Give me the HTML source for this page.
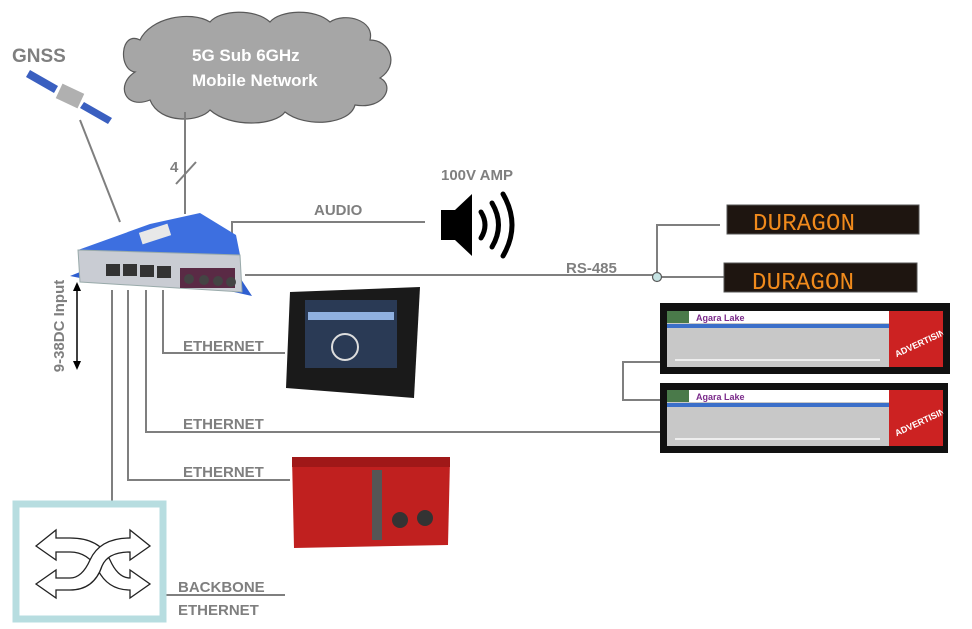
<!DOCTYPE html>
<html><head><meta charset="utf-8"><style>
html,body{margin:0;padding:0;background:#fff;}
svg{display:block;font-family:"Liberation Sans",sans-serif;}
</style></head><body>
<svg width="972" height="629" viewBox="0 0 972 629" xmlns="http://www.w3.org/2000/svg">
<defs>
<clipPath id="c1"><rect x="889" y="311" width="54" height="56"/></clipPath>
<clipPath id="c2"><rect x="889" y="390" width="54" height="56"/></clipPath>
</defs>
<!-- cloud -->
<g fill="#a6a6a6" stroke="#595959" stroke-width="1.2">
<path d="M140,40 C120,30 118,70 135,72 C115,85 125,110 150,100 C160,125 200,122 210,110 C230,128 275,126 285,112 C305,128 350,125 355,105 C385,110 395,85 380,78 C400,65 390,40 370,40 C375,20 345,12 330,22 C315,8 280,10 270,22 C255,8 220,10 210,22 C190,10 150,18 140,40 Z"/>
</g>
<text x="192" y="61" font-size="17" font-weight="bold" fill="#fff">5G Sub 6GHz</text>
<text x="192" y="86" font-size="17" font-weight="bold" fill="#fff">Mobile Network</text>
<text x="12" y="62" font-size="19" font-weight="bold" fill="#7f7f7f">GNSS</text>
<!-- satellite -->
<polygon points="30,70 58,86 54,93 26,77" fill="#3a5fc0"/>
<polygon points="84,102 112,118 108,124 80,108" fill="#3a5fc0"/>
<rect x="58" y="88" width="24" height="16" fill="#b0b0b0" transform="rotate(25 70 96)"/>
<!-- lines -->
<g stroke="#7f7f7f" stroke-width="2" fill="none">
<line x1="80" y1="120" x2="120" y2="222"/>
<line x1="185" y1="112" x2="185" y2="214"/>
<line x1="176" y1="184" x2="196" y2="162"/>
<polyline points="232,242 232,222 425,222"/>
<line x1="245" y1="275" x2="653" y2="275"/>
<polyline points="661,277 725,277"/>
<polyline points="657,273 657,225 720,225"/>
<polyline points="660,362 623,362 623,400 660,400"/>
<polyline points="146,290 146,432 660,432"/>
<polyline points="163,290 163,353 285,353"/>
<polyline points="128,290 128,480 290,480"/>
<line x1="112" y1="290" x2="112" y2="503"/>
<line x1="163" y1="595" x2="285" y2="595"/>
</g>
<circle cx="657" cy="277" r="4.5" fill="#c5e3e3" stroke="#595959" stroke-width="1.2"/>
<text x="170" y="172" font-size="15" font-weight="bold" fill="#7f7f7f">4</text>
<text x="314" y="215" font-size="15" font-weight="bold" fill="#7f7f7f">AUDIO</text>
<text x="441" y="180" font-size="15" font-weight="bold" fill="#7f7f7f">100V AMP</text>
<text x="566" y="273" font-size="15" font-weight="bold" fill="#7f7f7f">RS-485</text>
<text x="183" y="351" font-size="15" font-weight="bold" fill="#7f7f7f">ETHERNET</text>
<text x="183" y="429" font-size="15" font-weight="bold" fill="#7f7f7f">ETHERNET</text>
<text x="183" y="477" font-size="15" font-weight="bold" fill="#7f7f7f">ETHERNET</text>
<text x="178" y="592" font-size="15" font-weight="bold" fill="#7f7f7f">BACKBONE</text>
<text x="178" y="615" font-size="15" font-weight="bold" fill="#7f7f7f">ETHERNET</text>
<text transform="translate(64,326) rotate(-90)" text-anchor="middle" font-size="15" font-weight="bold" fill="#7f7f7f">9-38DC Input</text>
<!-- DC arrow -->
<line x1="77" y1="290" x2="77" y2="362" stroke="#000" stroke-width="1.5"/>
<polygon points="77,282 73,291 81,291" fill="#000"/>
<polygon points="77,370 73,361 81,361" fill="#000"/>
<!-- router -->
<polygon points="70,276 90,268 90,280" fill="#2f5fd0"/>
<polygon points="235,270 252,296 225,290" fill="#2f5fd0"/>
<polygon points="78,250 150,224 200,213 236,235 240,255" fill="#3d6fe0"/>
<rect x="140" y="228" width="30" height="12" fill="#e8e8e8" transform="rotate(-18 155 234)"/>
<polygon points="78,250 240,255 242,292 80,282" fill="#c9ccd3" stroke="#9aa" stroke-width="1"/>
<g fill="#333">
<rect x="106" y="264" width="14" height="12"/><rect x="123" y="264" width="14" height="12"/><rect x="140" y="265" width="14" height="12"/><rect x="157" y="266" width="14" height="12"/>
</g>
<rect x="180" y="268" width="55" height="20" fill="#5a2a45"/>
<g fill="#444"><circle cx="189" cy="279" r="5"/><circle cx="204" cy="280" r="5"/><circle cx="218" cy="281" r="5"/><circle cx="231" cy="282" r="5"/></g>
<!-- speaker -->
<polygon points="441,210 455,210 472,194 472,256 455,240 441,240" fill="#000"/>
<g fill="none" stroke="#000" stroke-width="5" stroke-linecap="round">
<path d="M481,212 Q489,225 481,238"/><path d="M492,203 Q505,225 492,247"/><path d="M503,194 Q521,225 503,256"/>
</g>
<!-- duragon signs -->
<rect x="727" y="205" width="192" height="29" fill="#1e1510" stroke="#555"/>
<text x="753" y="230" font-size="24" fill="#f08a1c" font-family="Liberation Mono,monospace" textLength="102">DURAGON</text>
<rect x="724" y="263" width="193" height="29" fill="#1e1510" stroke="#555"/>
<text x="752" y="289" font-size="24" fill="#f08a1c" font-family="Liberation Mono,monospace" textLength="102">DURAGON</text>
<!-- LCD bars -->
<g>
<rect x="660" y="303" width="290" height="71" fill="#111"/>
<rect x="667" y="311" width="222" height="56" fill="#c8c8c8"/>
<rect x="667" y="311" width="222" height="12" fill="#fff"/>
<rect x="667" y="311" width="22" height="12" fill="#4a7a4a"/>
<rect x="667" y="324" width="222" height="4" fill="#3b6fc9"/>
<text x="696" y="321" font-size="9" font-weight="bold" fill="#7a2a8a">Agara Lake</text>
<line x1="675" y1="360" x2="880" y2="360" stroke="#eee" stroke-width="2"/>
<rect x="889" y="311" width="54" height="56" fill="#c22"/>
<text x="891" y="348" font-size="9" font-weight="bold" fill="#fff" transform="rotate(-25 915 340)" clip-path="url(#c1)">ADVERTISING</text>
<rect x="660" y="383" width="288" height="70" fill="#111"/>
<rect x="667" y="390" width="222" height="56" fill="#c8c8c8"/>
<rect x="667" y="390" width="222" height="12" fill="#fff"/>
<rect x="667" y="390" width="22" height="12" fill="#4a7a4a"/>
<rect x="667" y="403" width="222" height="4" fill="#3b6fc9"/>
<text x="696" y="400" font-size="9" font-weight="bold" fill="#7a2a8a">Agara Lake</text>
<line x1="675" y1="439" x2="880" y2="439" stroke="#eee" stroke-width="2"/>
<rect x="889" y="390" width="54" height="56" fill="#c22"/>
<text x="891" y="427" font-size="9" font-weight="bold" fill="#fff" transform="rotate(-25 915 419)" clip-path="url(#c2)">ADVERTISING</text>
</g>
<!-- tablet -->
<polygon points="290,292 420,287 414,398 286,388" fill="#1a1a1a"/>
<rect x="305" y="300" width="92" height="68" fill="#2a3a55"/>
<rect x="308" y="312" width="86" height="8" fill="#8fb0e0"/>
<circle cx="345" cy="347" r="13" fill="none" stroke="#ddd" stroke-width="2"/>
<!-- red box -->
<polygon points="292,457 450,460 448,545 294,548" fill="#c0201f"/>
<rect x="292" y="457" width="158" height="10" fill="#a01818"/>
<rect x="372" y="470" width="10" height="70" fill="#555"/>
<circle cx="400" cy="520" r="8" fill="#333"/><circle cx="425" cy="518" r="8" fill="#333"/>
<!-- switch -->
<rect x="16" y="504" width="147" height="115" fill="#fff" stroke="#b7dde0" stroke-width="7"/>
<g fill="#fff" stroke="#222" stroke-width="1.3">
<path d="M36,546 L56,530 L56,538 L70,538 Q100,538 110,560 Q118,578 130,578 L130,570 L150,584 L130,598 L130,590 Q108,590 98,570 Q88,552 70,552 L56,552 L56,560 Z"/>
<path d="M36,584 L56,570 L56,578 L70,578 Q82,578 90,560 Q100,538 130,538 L130,530 L150,546 L130,560 L130,552 Q108,552 102,566 Q94,590 70,590 L56,590 L56,598 Z"/>
</g>
</svg>
</body></html>
